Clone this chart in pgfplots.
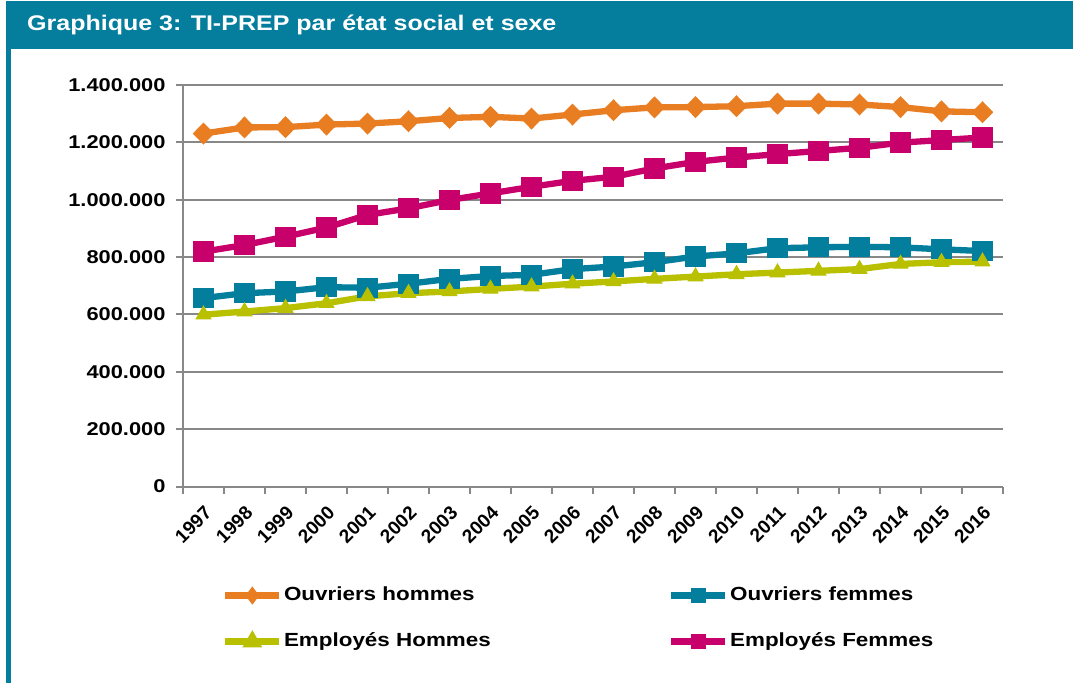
\documentclass[border=0pt]{standalone}
\usepackage{fontspec}
\setmainfont{Liberation Sans}
\newfontfamily\wide[FakeStretch=1.18]{Liberation Sans}
\usepackage{pgfplots}
\pgfplotsset{compat=1.18}
\definecolor{cOH}{HTML}{E87D22}
\definecolor{cOF}{HTML}{037E9C}
\definecolor{cEH}{HTML}{B8C000}
\definecolor{cEF}{HTML}{C8006B}
\definecolor{barteal}{HTML}{057D9C}
\definecolor{gridgray}{HTML}{888888}
\begin{document}
\begin{tikzpicture}[x=1pt,y=1pt]
\useasboundingbox (0,0) rectangle (1073,683);
\fill[white] (0,0) rectangle (1073,683);
\fill[barteal] (6,634) rectangle (1073,682);
\fill[barteal] (6,0) rectangle (11,634);
\node[anchor=west, text=white, inner sep=0pt, font=\wide\fontsize{21.2}{25}\selectfont\bfseries] at (27,658) {Graphique 3: TI-PREP par état social et sexe};
\begin{axis}[
  at={(183pt,196.5pt)}, anchor=south west,
  width=820pt, height=401.5pt, scale only axis,
  xmin=-0.5, xmax=19.5, ymin=0, ymax=1400000,
  axis x line*=bottom, axis y line*=left,
  axis line style={-, draw=gridgray, line width=2pt},
  xtick={0,...,19},
  xticklabels={1997,1998,1999,2000,2001,2002,2003,2004,2005,2006,2007,2008,2009,2010,2011,2012,2013,2014,2015,2016},
  minor xtick={-0.5,0.5,...,19.5},
  major x tick style={draw=none},
  minor x tick style={draw=gridgray, line width=2pt},
  minor tick length=7pt,
  ytick={0,200000,...,1400000},
  major y tick style={draw=gridgray, line width=2pt},
  major tick length=7pt,
  tick align=outside,
  ymajorgrids,
  grid style={gridgray, line width=2pt},
  scaled y ticks=false,
  /pgf/number format/assume math mode=true,
  yticklabel style={font=\wide\fontsize{18.5}{20}\selectfont\bfseries, xshift=-7pt, /pgf/number format/.cd, fixed, precision=0, 1000 sep={.}},
  xticklabel style={font=\fontsize{19}{21}\selectfont\bfseries, anchor=north east, inner sep=0pt, xshift=0pt, yshift=-11pt, rotate=45},
  legend columns=2,
  legend cell align=left,
  legend style={at={(0.0439,-0.24)}, anchor=north west, draw=none, fill=none,
    font=\wide\fontsize{19}{21}\selectfont\bfseries, row sep=25pt,
    nodes={inner sep=1.5pt, text height=14pt, text depth=4pt},
    /tikz/every even column/.append style={column sep=176pt}},
  legend image code/.code={\draw[#1, mark=none] (0pt,0pt) -- (54pt,0pt); \draw[#1, mark options={scale=0.6}] plot coordinates {(27pt,0pt)};},
  every axis plot/.append style={line width=6.3pt, mark options={solid, line width=1pt}},
  clip=false,
]
\addplot[color=cOH, mark=diamond*, mark size=6.5pt, mark options={xscale=1.3}] coordinates {
(0,1230700) (1,1252000) (2,1253000) (3,1262000) (4,1265500) (5,1273600) (6,1285000) (7,1289000) (8,1283000) (9,1297000)
(10,1312000) (11,1322000) (12,1323000) (13,1326000) (14,1335000) (15,1335000) (16,1332000) (17,1323000) (18,1308000) (19,1305000)};
\addlegendentry{Ouvriers hommes}
\addplot[color=cOF, mark=square*, mark size=7pt, mark options={rounded corners=2.5pt}] coordinates {
(0,657000) (1,674000) (2,680000) (3,695000) (4,693000) (5,707000) (6,724000) (7,734000) (8,738000) (9,758000)
(10,767000) (11,782000) (12,802000) (13,813000) (14,831000) (15,834000) (16,836000) (17,834000) (18,827000) (19,821000)};
\addlegendentry{Ouvriers femmes}
\addplot[color=cEH, mark=triangle*, mark size=8.5pt] coordinates {
(0,599000) (1,610000) (2,622000) (3,639000) (4,663000) (5,674000) (6,680000) (7,689000) (8,697000) (9,707000)
(10,715000) (11,724000) (12,732000) (13,740000) (14,746000) (15,752000) (16,758000) (17,776000) (18,782000) (19,784000)};
\addlegendentry{Employés Hommes}
\addplot[color=cEF, mark=square*, mark size=7pt, mark options={rounded corners=2.5pt}] coordinates {
(0,819000) (1,842000) (2,871000) (3,903000) (4,947000) (5,970000) (6,999000) (7,1022000) (8,1045000) (9,1066000)
(10,1080000) (11,1109000) (12,1132000) (13,1147000) (14,1159000) (15,1170000) (16,1181000) (17,1199000) (18,1208000) (19,1217000)};
\addlegendentry{Employés Femmes}
\end{axis}
\end{tikzpicture}
\end{document}
